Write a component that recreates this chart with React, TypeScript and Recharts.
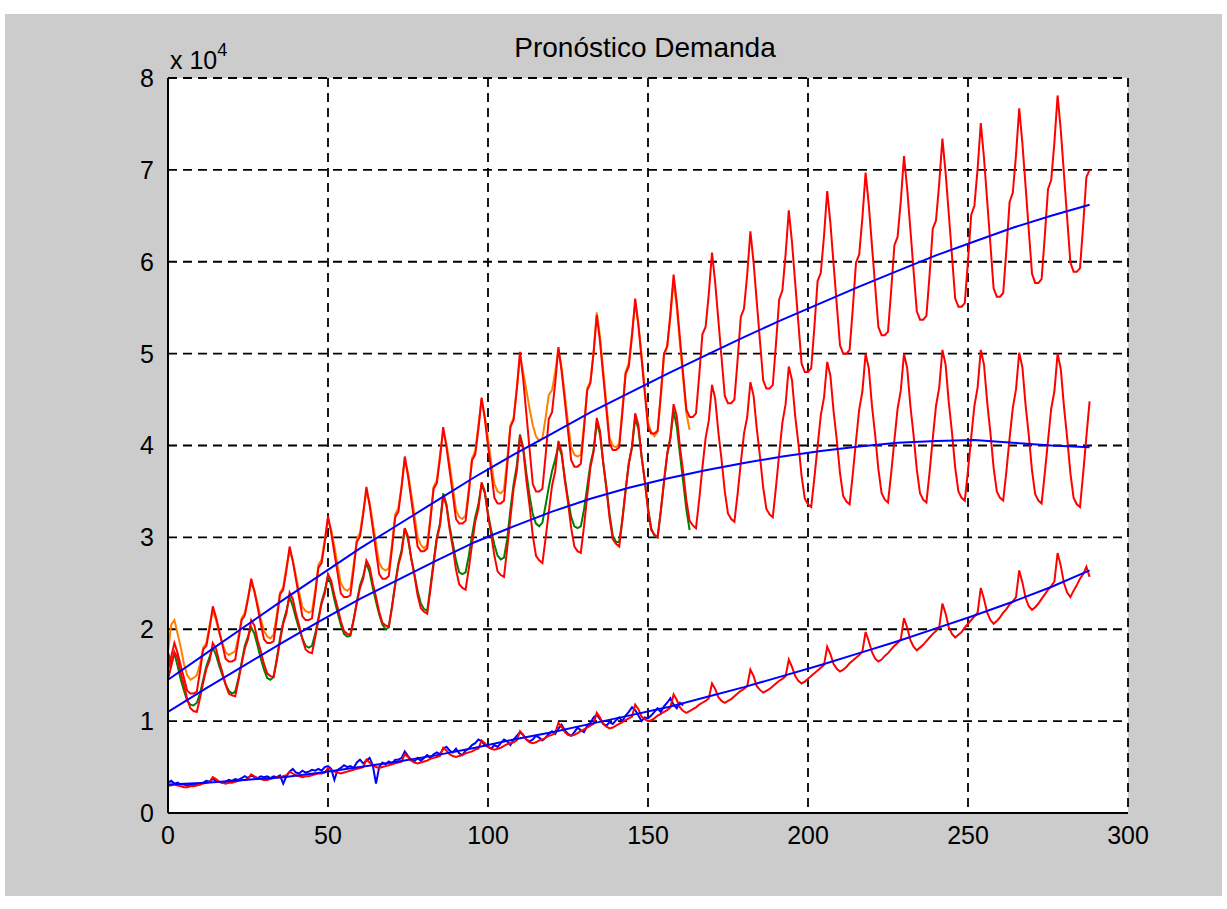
import { LineChart, Line, XAxis, YAxis, CartesianGrid } from "recharts";

// values in units of 10^4, one per month (x = 0, 1, 2, ...)
const upperForecast = [
  1.55, 1.7, 1.85, 1.74, 1.6, 1.47, 1.33, 1.3, 1.3, 1.32, 1.54, 1.78, 1.82, 2.01,
  2.25, 2.13, 1.98, 1.83, 1.68, 1.65, 1.65, 1.67, 1.88, 2.1, 2.15, 2.33,
  2.55, 2.41, 2.24, 2.06, 1.89, 1.85, 1.85, 1.87, 2.11, 2.38, 2.43, 2.64,
  2.9, 2.74, 2.54, 2.34, 2.14, 2.1, 2.1, 2.12, 2.38, 2.67, 2.72, 2.95,
  3.23, 3.05, 2.83, 2.61, 2.39, 2.35, 2.35, 2.37, 2.65, 2.95, 3.01, 3.25,
  3.55, 3.35, 3.1, 2.85, 2.6, 2.55, 2.55, 2.58, 2.88, 3.22, 3.28, 3.55,
  3.88, 3.67, 3.42, 3.16, 2.9, 2.85, 2.85, 2.88, 3.19, 3.53, 3.59, 3.86,
  4.2, 3.99, 3.73, 3.47, 3.2, 3.15, 3.15, 3.18, 3.49, 3.84, 3.9, 4.18,
  4.52, 4.29, 4.0, 3.72, 3.43, 3.37, 3.37, 3.4, 3.78, 4.2, 4.28, 4.61,
  5.02, 4.72, 4.34, 3.96, 3.58, 3.5, 3.5, 3.53, 3.89, 4.29, 4.36, 4.68,
  5.07, 4.81, 4.49, 4.16, 3.84, 3.77, 3.77, 3.8, 4.18, 4.6, 4.68, 5.01,
  5.42, 5.13, 4.76, 4.39, 4.02, 3.95, 3.95, 3.98, 4.36, 4.78, 4.86, 5.19,
  5.6, 5.31, 4.94, 4.57, 4.2, 4.13, 4.13, 4.16, 4.56, 5.0, 5.08, 5.43,
  5.86, 5.55, 5.16, 4.77, 4.39, 4.31, 4.31, 4.35, 4.76, 5.21, 5.29, 5.65,
  6.1, 5.77, 5.36, 4.95, 4.54, 4.46, 4.46, 4.5, 4.93, 5.4, 5.49, 5.86,
  6.33, 5.99, 5.56, 5.13, 4.71, 4.62, 4.62, 4.66, 5.11, 5.59, 5.69, 6.08,
  6.56, 6.21, 5.77, 5.33, 4.89, 4.8, 4.8, 4.84, 5.29, 5.79, 5.88, 6.28,
  6.77, 6.42, 5.97, 5.53, 5.09, 5.0, 5.0, 5.04, 5.49, 5.99, 6.08, 6.48,
  6.97, 6.62, 6.17, 5.73, 5.29, 5.2, 5.2, 5.24, 5.69, 6.18, 6.27, 6.66,
  7.15, 6.79, 6.35, 5.9, 5.46, 5.37, 5.37, 5.41, 5.86, 6.36, 6.45, 6.85,
  7.34, 6.97, 6.52, 6.06, 5.6, 5.51, 5.51, 5.55, 6.01, 6.51, 6.61, 7.01,
  7.51, 7.13, 6.66, 6.19, 5.71, 5.62, 5.62, 5.66, 6.13, 6.65, 6.75, 7.16,
  7.67, 7.29, 6.82, 6.34, 5.87, 5.77, 5.77, 5.81, 6.28, 6.79, 6.89, 7.3,
  7.81, 7.43, 6.95, 6.47, 5.99, 5.89, 5.89, 5.93, 6.4, 6.92, 7.0,
];

const upperActual = [
  1.75, 2.05, 2.1, 1.95, 1.8, 1.62, 1.5, 1.45, 1.47, 1.5, 1.62, 1.8, 1.85, 2.05,
  2.2, 2.1, 1.96, 1.85, 1.75, 1.72, 1.74, 1.76, 1.92, 2.12, 2.18, 2.35,
  2.5, 2.42, 2.28, 2.12, 1.98, 1.92, 1.9, 1.94, 2.16, 2.4, 2.46, 2.68,
  2.85, 2.75, 2.58, 2.4, 2.24, 2.2, 2.18, 2.2, 2.42, 2.7, 2.76, 2.98,
  3.2, 3.08, 2.9, 2.7, 2.5, 2.44, 2.42, 2.45, 2.7, 2.98, 3.05, 3.28,
  3.5, 3.38, 3.16, 2.94, 2.72, 2.66, 2.64, 2.66, 2.92, 3.25, 3.32, 3.56,
  3.85, 3.7, 3.48, 3.25, 3.0, 2.92, 2.88, 2.92, 3.22, 3.55, 3.62, 3.9,
  4.15, 4.02, 3.8, 3.55, 3.3, 3.22, 3.2, 3.24, 3.52, 3.86, 3.94, 4.22,
  4.5, 4.32, 4.08, 3.82, 3.58, 3.5, 3.48, 3.52, 3.85, 4.22, 4.3, 4.62,
  4.98, 4.8, 4.6, 4.4, 4.22, 4.1, 4.05, 4.08, 4.3, 4.55, 4.6, 4.8,
  5.05, 4.85, 4.55, 4.25, 3.98, 3.9, 3.88, 3.9, 4.22, 4.62, 4.7, 5.02,
  5.45, 5.18, 4.82, 4.45, 4.08, 4.0, 3.98, 4.02, 4.4, 4.8, 4.9, 5.22,
  5.55, 5.32, 4.98, 4.62, 4.25, 4.15, 4.1, 4.15, 4.52, 4.98, 5.08, 5.4,
  5.8, 5.5, 5.1, 4.72, 4.35, 4.17,
];

const middleForecast = [
  1.45, 1.6, 1.75, 1.69, 1.52, 1.39, 1.24, 1.14, 1.11, 1.1, 1.25, 1.42, 1.57, 1.66,
  1.85, 1.79, 1.65, 1.53, 1.4, 1.3, 1.28, 1.27, 1.44, 1.62, 1.79, 1.89,
  2.1, 2.04, 1.88, 1.76, 1.62, 1.52, 1.49, 1.48, 1.66, 1.87, 2.06, 2.17,
  2.4, 2.33, 2.17, 2.04, 1.89, 1.78, 1.75, 1.74, 1.91, 2.1, 2.28, 2.39,
  2.6, 2.53, 2.37, 2.24, 2.09, 1.98, 1.95, 1.94, 2.1, 2.28, 2.45, 2.55,
  2.75, 2.68, 2.5, 2.35, 2.19, 2.07, 2.04, 2.03, 2.24, 2.48, 2.7, 2.83,
  3.1, 3.01, 2.77, 2.59, 2.37, 2.23, 2.19, 2.17, 2.43, 2.71, 2.98, 3.13,
  3.45, 3.35, 3.09, 2.89, 2.65, 2.49, 2.45, 2.43, 2.66, 2.92, 3.17, 3.31,
  3.6, 3.5, 3.24, 3.03, 2.8, 2.63, 2.59, 2.57, 2.88, 3.21, 3.53, 3.72,
  4.1, 3.96, 3.62, 3.34, 3.02, 2.8, 2.75, 2.72, 2.99, 3.28, 3.56, 3.72,
  4.05, 3.93, 3.62, 3.38, 3.1, 2.9, 2.85, 2.83, 3.12, 3.45, 3.76, 3.93,
  4.3, 4.16, 3.81, 3.53, 3.21, 2.98, 2.93, 2.9, 3.19, 3.51, 3.81, 3.99,
  4.35, 4.22, 3.88, 3.61, 3.3, 3.08, 3.03, 3.0, 3.29, 3.61, 3.91, 4.09,
  4.45, 4.32, 3.98, 3.71, 3.4, 3.18, 3.13, 3.1, 3.41, 3.76, 4.08, 4.27,
  4.66, 4.51, 4.14, 3.84, 3.5, 3.26, 3.2, 3.17, 3.47, 3.81, 4.13, 4.31,
  4.69, 4.54, 4.18, 3.88, 3.54, 3.31, 3.25, 3.22, 3.55, 3.91, 4.25, 4.45,
  4.86, 4.71, 4.32, 4.02, 3.67, 3.42, 3.36, 3.33, 3.65, 3.99, 4.33, 4.52,
  4.91, 4.76, 4.37, 4.06, 3.7, 3.45, 3.39, 3.36, 3.69, 4.05, 4.39, 4.59,
  5.0, 4.84, 4.43, 4.11, 3.74, 3.48, 3.41, 3.38, 3.7, 4.06, 4.4, 4.6,
  5.0, 4.84, 4.43, 4.11, 3.74, 3.48, 3.41, 3.38, 3.71, 4.08, 4.43, 4.63,
  5.04, 4.88, 4.47, 4.14, 3.76, 3.5, 3.43, 3.4, 3.73, 4.09, 4.43, 4.63,
  5.04, 4.88, 4.47, 4.14, 3.76, 3.5, 3.43, 3.4, 3.72, 4.08, 4.41, 4.61,
  5.01, 4.85, 4.44, 4.11, 3.73, 3.47, 3.4, 3.37, 3.7, 4.05, 4.4, 4.59,
  5.0, 4.83, 4.42, 4.08, 3.7, 3.43, 3.36, 3.33, 3.7, 4.1, 4.48,
];

const middleActual = [
  1.75, 1.62, 1.74, 1.6, 1.45, 1.33, 1.22, 1.18, 1.17, 1.2, 1.3, 1.45, 1.6, 1.7,
  1.8, 1.72, 1.6, 1.5, 1.4, 1.33, 1.3, 1.32, 1.46, 1.64, 1.82, 1.92,
  2.02, 1.95, 1.82, 1.68, 1.56, 1.47, 1.45, 1.48, 1.68, 1.9, 2.08, 2.2,
  2.35, 2.25, 2.12, 2.0, 1.9, 1.82, 1.8, 1.82, 1.95, 2.12, 2.3, 2.42,
  2.58, 2.48, 2.32, 2.18, 2.05, 1.95, 1.92, 1.93, 2.1, 2.3, 2.48, 2.58,
  2.72, 2.62, 2.45, 2.3, 2.16, 2.05, 2.0, 2.02, 2.25, 2.5, 2.72, 2.86,
  3.1, 2.98, 2.78, 2.6, 2.42, 2.28, 2.22, 2.2, 2.46, 2.74, 3.0, 3.15,
  3.48, 3.36, 3.12, 2.94, 2.75, 2.62, 2.6, 2.62, 2.8, 3.02, 3.22, 3.36,
  3.58, 3.48, 3.26, 3.08, 2.92, 2.8, 2.76, 2.78, 2.98, 3.3, 3.58, 3.78,
  4.12, 3.98, 3.7, 3.45, 3.25, 3.15, 3.12, 3.16, 3.35, 3.55, 3.72, 3.85,
  4.0, 3.9, 3.65, 3.42, 3.22, 3.12, 3.1, 3.12, 3.3, 3.55, 3.8, 3.95,
  4.25, 4.12, 3.82, 3.55, 3.25, 3.02, 2.95, 2.95, 3.2, 3.52, 3.8, 3.98,
  4.3, 4.18, 3.88, 3.62, 3.32, 3.1, 3.02, 3.0, 3.28, 3.6, 3.9, 4.08,
  4.38, 4.2, 3.9, 3.6, 3.3, 3.08,
];

const lowerForecast = [
  0.3, 0.3, 0.31, 0.3, 0.29, 0.28, 0.28, 0.29, 0.29, 0.3, 0.31, 0.32, 0.33, 0.34,
  0.39, 0.37, 0.34, 0.33, 0.32, 0.33, 0.33, 0.34, 0.35, 0.36, 0.36, 0.37,
  0.42, 0.4, 0.38, 0.37, 0.36, 0.36, 0.37, 0.38, 0.39, 0.39, 0.4, 0.41,
  0.45, 0.43, 0.41, 0.4, 0.39, 0.4, 0.4, 0.41, 0.42, 0.43, 0.43, 0.44,
  0.49, 0.47, 0.45, 0.44, 0.43, 0.44, 0.45, 0.46, 0.47, 0.48, 0.49, 0.5,
  0.58, 0.55, 0.52, 0.5, 0.49, 0.5, 0.51, 0.52, 0.53, 0.54, 0.55, 0.56,
  0.64, 0.61, 0.57, 0.55, 0.54, 0.55, 0.56, 0.57, 0.59, 0.6, 0.61, 0.62,
  0.71, 0.68, 0.64, 0.62, 0.61, 0.62, 0.63, 0.65, 0.66, 0.67, 0.69, 0.7,
  0.79, 0.76, 0.72, 0.7, 0.69, 0.7, 0.71, 0.73, 0.75, 0.76, 0.77, 0.79,
  0.89, 0.85, 0.8, 0.77, 0.76, 0.77, 0.79, 0.8, 0.82, 0.84, 0.85, 0.87,
  0.98, 0.94, 0.88, 0.85, 0.84, 0.85, 0.87, 0.89, 0.91, 0.93, 0.95, 0.97,
  1.09, 1.04, 0.97, 0.94, 0.92, 0.93, 0.95, 0.97, 0.99, 1.01, 1.03, 1.05,
  1.18, 1.13, 1.05, 1.02, 1.0, 1.01, 1.03, 1.06, 1.08, 1.1, 1.12, 1.15,
  1.29, 1.23, 1.15, 1.11, 1.09, 1.11, 1.13, 1.15, 1.18, 1.2, 1.22, 1.25,
  1.41, 1.35, 1.26, 1.22, 1.2, 1.22, 1.24, 1.27, 1.3, 1.33, 1.35, 1.38,
  1.56, 1.49, 1.38, 1.34, 1.31, 1.33, 1.35, 1.38, 1.41, 1.44, 1.46, 1.49,
  1.67, 1.59, 1.49, 1.44, 1.41, 1.43, 1.46, 1.49, 1.52, 1.55, 1.58, 1.61,
  1.81, 1.73, 1.62, 1.57, 1.54, 1.56, 1.59, 1.63, 1.66, 1.69, 1.72, 1.76,
  1.97, 1.87, 1.75, 1.68, 1.65, 1.67, 1.71, 1.74, 1.78, 1.82, 1.85, 1.89,
  2.12, 2.02, 1.88, 1.81, 1.77, 1.8, 1.83, 1.87, 1.91, 1.95, 1.98, 2.02,
  2.28, 2.17, 2.02, 1.95, 1.91, 1.94, 1.97, 2.02, 2.06, 2.1, 2.14, 2.18,
  2.45, 2.33, 2.18, 2.1, 2.06, 2.09, 2.13, 2.18, 2.22, 2.27, 2.3, 2.35,
  2.64, 2.51, 2.34, 2.25, 2.21, 2.24, 2.28, 2.33, 2.38, 2.43, 2.47, 2.52,
  2.83, 2.69, 2.5, 2.4, 2.35, 2.42, 2.48, 2.55, 2.6, 2.68, 2.57,
];

const lowerActual = [
  0.33, 0.35, 0.32, 0.33, 0.31, 0.31, 0.3, 0.31, 0.3, 0.32, 0.31, 0.33,
  0.35, 0.34, 0.37, 0.35, 0.34, 0.33, 0.34, 0.36, 0.35, 0.37, 0.36, 0.38,
  0.4, 0.38, 0.41, 0.39, 0.38, 0.4, 0.39, 0.4, 0.38, 0.4, 0.39, 0.41,
  0.32, 0.4, 0.45, 0.48, 0.44, 0.43, 0.46, 0.44, 0.45, 0.47, 0.46, 0.48,
  0.46, 0.5, 0.51, 0.48, 0.36, 0.47, 0.49, 0.52, 0.5, 0.51, 0.49, 0.55,
  0.58, 0.54, 0.57, 0.6, 0.52, 0.32, 0.5, 0.55, 0.53, 0.56, 0.54, 0.58,
  0.58, 0.6, 0.67, 0.62, 0.58, 0.56, 0.6, 0.57, 0.6, 0.63, 0.6, 0.64,
  0.66, 0.64, 0.7, 0.72, 0.68, 0.66, 0.7, 0.65, 0.63, 0.68, 0.7, 0.74,
  0.76, 0.8, 0.78, 0.74, 0.72, 0.7, 0.74, 0.72, 0.76, 0.8, 0.78, 0.74,
  0.8, 0.84, 0.88, 0.85, 0.8, 0.78, 0.8, 0.84, 0.82, 0.79, 0.82, 0.86,
  0.89, 0.86, 0.92, 0.96, 0.9, 0.86, 0.84, 0.88, 0.93, 0.9, 0.88, 0.95,
  0.98, 1.04, 1.07, 1.02, 0.97, 0.95, 0.99, 0.97, 1.01, 1.04, 1.0, 1.06,
  1.1, 1.15, 1.12, 1.06, 1.0, 1.04, 1.03, 1.06, 1.1, 1.14, 1.1, 1.16,
  1.2, 1.25, 1.18, 1.14, 1.2, 1.17,
];

// smooth trend curves, one value every 12 months
const trendMonths = [0, 12, 24, 36, 48, 60, 72, 84, 96, 108, 120, 132, 144, 156, 168, 180, 192, 204, 216, 228, 240, 252, 264, 276, 288];
const upperTrend = [1.45, 1.74, 2.03, 2.32, 2.6, 2.88, 3.14, 3.4, 3.66, 3.9, 4.13, 4.36, 4.57, 4.78, 4.98, 5.18, 5.37, 5.55, 5.73, 5.9, 6.07, 6.22, 6.37, 6.5, 6.62];
const middleTrend = [1.1, 1.36, 1.61, 1.86, 2.1, 2.33, 2.54, 2.75, 2.95, 3.12, 3.28, 3.42, 3.54, 3.64, 3.73, 3.81, 3.88, 3.94, 3.99, 4.03, 4.05, 4.06, 4.03, 4.0, 3.98];
const lowerTrend = [0.31, 0.33, 0.36, 0.39, 0.44, 0.5, 0.56, 0.63, 0.71, 0.8, 0.88, 0.97, 1.06, 1.15, 1.26, 1.37, 1.49, 1.61, 1.74, 1.87, 2.01, 2.15, 2.3, 2.46, 2.64];

const xTicks = [0, 50, 100, 150, 200, 250, 300];
const yTicks = [0, 1, 2, 3, 4, 5, 6, 7, 8];

const rows = upperForecast.map((v, i) => {
  const t = trendMonths.indexOf(i);
  return {
    x: i,
    upperForecast: v,
    upperActual: upperActual[i],
    middleForecast: middleForecast[i],
    middleActual: middleActual[i],
    lowerForecast: lowerForecast[i],
    lowerActual: lowerActual[i],
    upperTrend: t >= 0 ? upperTrend[t] : undefined,
    middleTrend: t >= 0 ? middleTrend[t] : undefined,
    lowerTrend: t >= 0 ? lowerTrend[t] : undefined,
  };
});

const font = "'Liberation Sans', Arial, sans-serif";
const tickStyle = { fontSize: 25, fill: "#000", fontFamily: font };

export default function App() {
  return (
    <div style={{ position: "absolute", left: 0, top: 0, width: 1227, height: 909, background: "#fff", fontFamily: font }}>
      <div style={{ position: "absolute", left: 5, top: 14, width: 1217, height: 882, background: "#cccccc" }} />
      <div style={{ position: "absolute", left: 0, top: 0 }}>
        <LineChart width={1227} height={909} data={rows} margin={{ top: 78, right: 99, bottom: 56, left: 118 }}>
          <CartesianGrid fill="#fff" stroke="#000" strokeDasharray="9 6" strokeWidth={1.8} />
          <XAxis
            type="number"
            dataKey="x"
            domain={[0, 300]}
            ticks={xTicks}
            height={40}
            tickLine={false}
            axisLine={{ stroke: "#000", strokeWidth: 2 }}
            tick={tickStyle}
            tickMargin={7}
          />
          <YAxis
            type="number"
            domain={[0, 8]}
            ticks={yTicks}
            width={50}
            tickLine={false}
            axisLine={{ stroke: "#000", strokeWidth: 2 }}
            tick={tickStyle}
            tickMargin={8}
          />
          <Line dataKey="upperActual" stroke="#ff8000" strokeWidth={2} dot={false} isAnimationActive={false} />
          <Line dataKey="middleActual" stroke="#008000" strokeWidth={2} dot={false} isAnimationActive={false} />
          <Line dataKey="lowerActual" stroke="#0000ff" strokeWidth={2} dot={false} isAnimationActive={false} />
          <Line dataKey="upperForecast" stroke="#ff0000" strokeWidth={2} dot={false} isAnimationActive={false} />
          <Line dataKey="middleForecast" stroke="#ff0000" strokeWidth={2} dot={false} isAnimationActive={false} />
          <Line dataKey="lowerForecast" stroke="#ff0000" strokeWidth={2} dot={false} isAnimationActive={false} />
          <Line dataKey="upperTrend" stroke="#0000ff" strokeWidth={2} dot={false} connectNulls isAnimationActive={false} />
          <Line dataKey="middleTrend" stroke="#0000ff" strokeWidth={2} dot={false} connectNulls isAnimationActive={false} />
          <Line dataKey="lowerTrend" stroke="#0000ff" strokeWidth={2} dot={false} connectNulls isAnimationActive={false} />
        </LineChart>
      </div>
      <div style={{ position: "absolute", left: 0, width: 1290, top: 32, textAlign: "center", fontSize: 28, lineHeight: "32px", color: "#000" }}>
        Pronóstico Demanda
      </div>
      <div style={{ position: "absolute", left: 170, top: 41, fontSize: 25, lineHeight: "26px", color: "#000" }}>
        x 10<sup style={{ fontSize: 18, position: "relative", top: -4 }}>4</sup>
      </div>
    </div>
  );
}
